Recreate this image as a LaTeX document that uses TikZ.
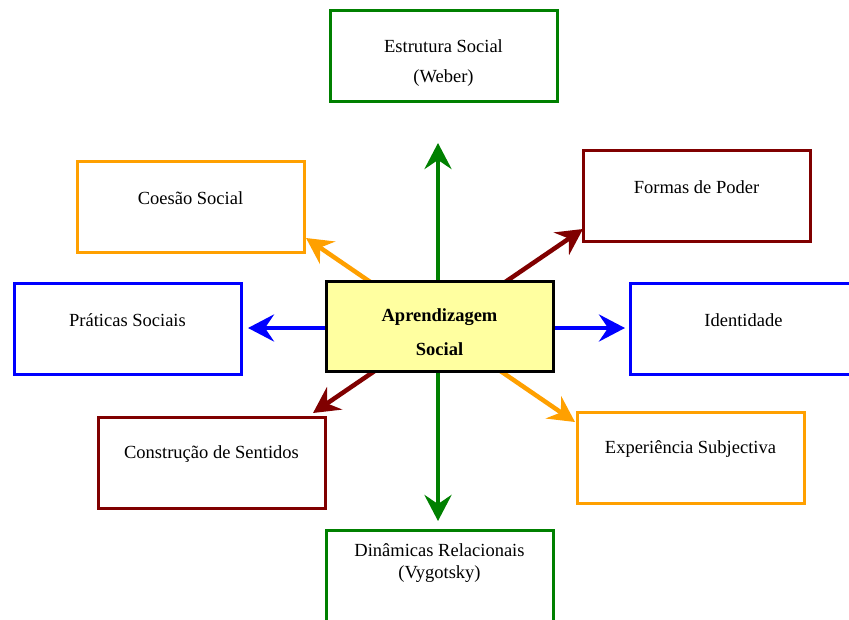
\documentclass[tikz,border=0pt]{standalone}
\usepackage{fontspec}
\setmainfont{Liberation Serif}
\usetikzlibrary{arrows.meta,calc}

\definecolor{cgreen}{RGB}{0,128,0}
\definecolor{corange}{RGB}{255,160,0}
\definecolor{cred}{RGB}{128,0,0}
\definecolor{cblue}{RGB}{0,0,255}
\definecolor{cyellow}{RGB}{255,255,160}

\tikzset{
  box/.style={draw, line width=3pt, fill=white, minimum width=227pt, minimum height=91pt, inner sep=0pt},
  core/.style={draw=black, line width=3pt, fill=cyellow, minimum width=227pt, minimum height=90pt, inner sep=0pt},
  txt/.style={font=\fontsize{18.5pt}{22pt}\selectfont, inner sep=0pt, align=center},
  btxt/.style={txt, font=\fontsize{18.5pt}{34pt}\selectfont\bfseries},
  link/.style={line width=4.5pt, {Stealth[length=26pt,width=27pt,inset=9pt]}-{Stealth[length=26pt,width=27pt,inset=9pt]}},
}

\begin{document}
\begin{tikzpicture}[x=1pt,y=-1pt]
\useasboundingbox (0,0) rectangle (849,619);

% arrow tips around the central concept
\coordinate (tN) at (438,143);
\coordinate (tS) at (438,521);
\coordinate (tW) at (248,328);
\coordinate (tE) at (625,328);
\coordinate (tNW) at (306,238);
\coordinate (tSE) at (575,422);
\coordinate (tSW) at (313,413);
\coordinate (tNE) at (583,229);

% connectors, drawn first so the central box covers their middle
\draw[link, cgreen] (tN) -- (tS);
\draw[link, cblue] (tW) -- (tE);
\draw[link, corange] (tNW) -- (tSE);
\draw[link, cred] (tSW) -- (tNE);

% central concept
\node[core] (core) at (439.5,326) {};
\node[btxt] (coreT) at (439.5,332) {Aprendizagem\\Social};

% surrounding boxes
\node[box, draw=cgreen] (est) at (443.5,55.5) {};
\node[txt] (estA) at (443.5,46) {Estrutura Social};
\node[txt] (estB) at (443.5,78.5) {(Weber)};

\node[box, draw=corange] (coe) at (190.5,207) {};
\node[txt] (coeT) at (190.5,198.5) {Coesão Social};

\node[box, draw=cred] (fp) at (696.5,195.5) {};
\node[txt] (fpT) at (696.5,187) {Formas de Poder};

\node[box, draw=cblue] (pra) at (127.5,329) {};
\node[txt] (praT) at (127.5,320.5) {Práticas Sociais};

\node[box, draw=cblue] (id) at (743.5,329) {};
\node[txt] (idT) at (743.5,320.5) {Identidade};

\node[box, draw=cred] (cs) at (211.5,463) {};
\node[txt] (csT) at (211.5,454.5) {Construção de Sentidos};

\node[box, draw=corange] (exp) at (690.5,457.5) {};
\node[txt] (expT) at (690.5,449.5) {Experiência Subjectiva};

\node[box, draw=cgreen] (din) at (439.5,575.5) {};
\node[txt] (dinA) at (439.5,550.5) {Dinâmicas Relacionais};
\node[txt] (dinB) at (439.5,574) {(Vygotsky)};
\end{tikzpicture}
\end{document}
